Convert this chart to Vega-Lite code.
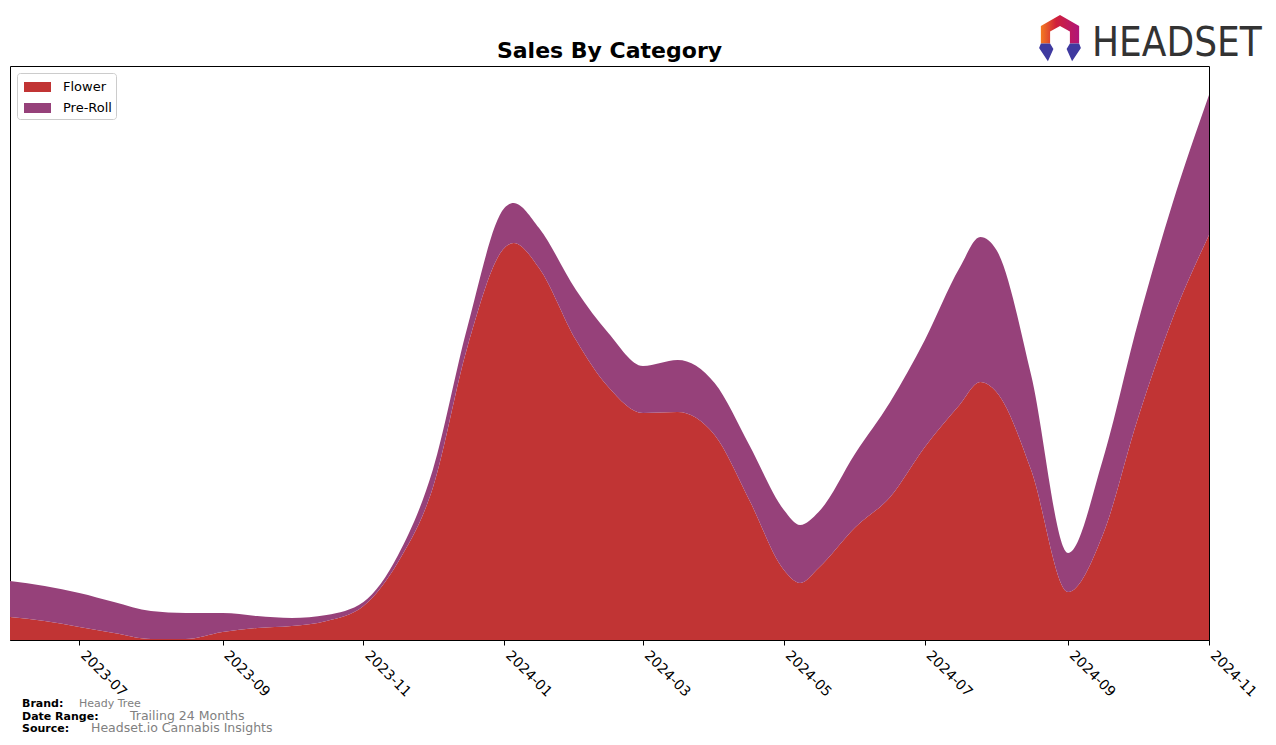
{
  "$schema": "https://vega.github.io/schema/vega-lite/v6.json",
  "width": 1199,
  "height": 574,
  "autosize": {"type": "none"},
  "padding": {"left": 10, "top": 66, "right": 67, "bottom": 105},
  "background": "white",
  "config": {
    "view": {"stroke": "black", "strokeWidth": 1},
    "font": "DejaVu Sans"
  },
  "datasets": {
    "sales": [
      {"date": "2023-06-01", "category": "Flower", "sales": 2300},
      {"date": "2023-06-16", "category": "Flower", "sales": 1900},
      {"date": "2023-07-01", "category": "Flower", "sales": 1300},
      {"date": "2023-07-16", "category": "Flower", "sales": 700},
      {"date": "2023-08-01", "category": "Flower", "sales": 100},
      {"date": "2023-08-16", "category": "Flower", "sales": 100},
      {"date": "2023-09-01", "category": "Flower", "sales": 800},
      {"date": "2023-09-16", "category": "Flower", "sales": 1200},
      {"date": "2023-10-01", "category": "Flower", "sales": 1400},
      {"date": "2023-10-16", "category": "Flower", "sales": 1900},
      {"date": "2023-11-01", "category": "Flower", "sales": 3400},
      {"date": "2023-11-16", "category": "Flower", "sales": 7800},
      {"date": "2023-12-01", "category": "Flower", "sales": 15200},
      {"date": "2023-12-16", "category": "Flower", "sales": 29300},
      {"date": "2024-01-01", "category": "Flower", "sales": 39200},
      {"date": "2024-01-05", "category": "Flower", "sales": 39700},
      {"date": "2024-01-16", "category": "Flower", "sales": 37200},
      {"date": "2024-02-01", "category": "Flower", "sales": 30000},
      {"date": "2024-02-15", "category": "Flower", "sales": 25300},
      {"date": "2024-03-01", "category": "Flower", "sales": 22700},
      {"date": "2024-03-16", "category": "Flower", "sales": 22800},
      {"date": "2024-04-01", "category": "Flower", "sales": 20500},
      {"date": "2024-04-16", "category": "Flower", "sales": 14000},
      {"date": "2024-05-01", "category": "Flower", "sales": 7000},
      {"date": "2024-05-08", "category": "Flower", "sales": 5700},
      {"date": "2024-05-16", "category": "Flower", "sales": 7200},
      {"date": "2024-06-01", "category": "Flower", "sales": 11300},
      {"date": "2024-06-16", "category": "Flower", "sales": 14300},
      {"date": "2024-07-01", "category": "Flower", "sales": 19300},
      {"date": "2024-07-16", "category": "Flower", "sales": 23500},
      {"date": "2024-07-25", "category": "Flower", "sales": 25800},
      {"date": "2024-08-01", "category": "Flower", "sales": 24800},
      {"date": "2024-08-16", "category": "Flower", "sales": 17000},
      {"date": "2024-09-01", "category": "Flower", "sales": 4800},
      {"date": "2024-09-16", "category": "Flower", "sales": 10500},
      {"date": "2024-10-01", "category": "Flower", "sales": 22000},
      {"date": "2024-10-16", "category": "Flower", "sales": 32000},
      {"date": "2024-11-01", "category": "Flower", "sales": 40500},
      {"date": "2023-06-01", "category": "Pre-Roll", "sales": 3600},
      {"date": "2023-06-16", "category": "Pre-Roll", "sales": 3500},
      {"date": "2023-07-01", "category": "Pre-Roll", "sales": 3400},
      {"date": "2023-07-16", "category": "Pre-Roll", "sales": 3100},
      {"date": "2023-08-01", "category": "Pre-Roll", "sales": 2800},
      {"date": "2023-08-16", "category": "Pre-Roll", "sales": 2600},
      {"date": "2023-09-01", "category": "Pre-Roll", "sales": 1900},
      {"date": "2023-09-16", "category": "Pre-Roll", "sales": 1200},
      {"date": "2023-10-01", "category": "Pre-Roll", "sales": 800},
      {"date": "2023-10-16", "category": "Pre-Roll", "sales": 600},
      {"date": "2023-11-01", "category": "Pre-Roll", "sales": 400},
      {"date": "2023-11-16", "category": "Pre-Roll", "sales": 700},
      {"date": "2023-12-01", "category": "Pre-Roll", "sales": 1800},
      {"date": "2023-12-16", "category": "Pre-Roll", "sales": 2000},
      {"date": "2024-01-01", "category": "Pre-Roll", "sales": 4000},
      {"date": "2024-01-05", "category": "Pre-Roll", "sales": 4000},
      {"date": "2024-01-16", "category": "Pre-Roll", "sales": 4000},
      {"date": "2024-02-01", "category": "Pre-Roll", "sales": 5000},
      {"date": "2024-02-15", "category": "Pre-Roll", "sales": 5400},
      {"date": "2024-03-01", "category": "Pre-Roll", "sales": 4700},
      {"date": "2024-03-16", "category": "Pre-Roll", "sales": 5200},
      {"date": "2024-04-01", "category": "Pre-Roll", "sales": 5200},
      {"date": "2024-04-16", "category": "Pre-Roll", "sales": 5500},
      {"date": "2024-05-01", "category": "Pre-Roll", "sales": 6000},
      {"date": "2024-05-08", "category": "Pre-Roll", "sales": 5800},
      {"date": "2024-05-16", "category": "Pre-Roll", "sales": 5600},
      {"date": "2024-06-01", "category": "Pre-Roll", "sales": 7400},
      {"date": "2024-06-16", "category": "Pre-Roll", "sales": 9500},
      {"date": "2024-07-01", "category": "Pre-Roll", "sales": 10700},
      {"date": "2024-07-16", "category": "Pre-Roll", "sales": 13700},
      {"date": "2024-07-25", "category": "Pre-Roll", "sales": 14500},
      {"date": "2024-08-01", "category": "Pre-Roll", "sales": 14200},
      {"date": "2024-08-16", "category": "Pre-Roll", "sales": 9500},
      {"date": "2024-09-01", "category": "Pre-Roll", "sales": 3900},
      {"date": "2024-09-16", "category": "Pre-Roll", "sales": 7500},
      {"date": "2024-10-01", "category": "Pre-Roll", "sales": 9500},
      {"date": "2024-10-16", "category": "Pre-Roll", "sales": 11500},
      {"date": "2024-11-01", "category": "Pre-Roll", "sales": 14000}
    ]
  },
  "layer": [
    {
      "data": {"name": "sales"},
      "mark": {"type": "area", "interpolate": "monotone"},
      "encoding": {
        "x": {
          "field": "date",
          "type": "temporal",
          "scale": {
            "type": "utc",
            "domain": [
              {"year": 2023, "month": 6, "date": 1, "utc": true},
              {"year": 2024, "month": 11, "date": 1, "utc": true}
            ],
            "nice": false
          },
          "axis": {
            "title": null,
            "format": "%Y-%m",
            "tickCount": {"interval": "month", "step": 2},
            "labelAngle": 45,
            "labelAlign": "left",
            "labelBaseline": "top",
            "labelFontSize": 14,
            "labelFont": "DejaVu Sans",
            "labelColor": "black",
            "labelOffset": 8,
            "tickColor": "black",
            "tickSize": 5,
            "domainColor": "black",
            "grid": false,
            "labelPadding": 3,
            "labelOverlap": false,
            "labelFlush": false
          }
        },
        "y": {
          "field": "sales",
          "type": "quantitative",
          "stack": "zero",
          "scale": {"domain": [0, 57400], "nice": false},
          "axis": null
        },
        "color": {
          "field": "category",
          "type": "nominal",
          "scale": {"domain": ["Flower", "Pre-Roll"], "range": ["#C13434", "#96417A"]},
          "legend": {
            "title": null,
            "orient": "none",
            "legendX": 7,
            "legendY": 7,
            "symbolType": "M-1.35,-0.5L1.35,-0.5L1.35,0.5L-1.35,0.5Z",
            "symbolSize": 400,
            "symbolStrokeWidth": 0,
            "symbolOffset": 6.5,
            "labelFontSize": 13,
            "labelFont": "DejaVu Sans",
            "labelColor": "black",
            "labelOffset": 15.5,
            "rowPadding": 4,
            "padding": 4,
            "strokeColor": "#cccccc",
            "fillColor": "white",
            "cornerRadius": 3
          }
        },
        "order": {"field": "category", "sort": "ascending"}
      }
    },
    {
      "data": {"values": [{}]},
      "mark": {"type": "text", "text": "Sales By Category", "x": 599.5, "y": -15, "align": "center", "baseline": "middle", "fontSize": 22, "fontWeight": "bold", "font": "DejaVu Sans", "color": "black"},
      "encoding": {}
    },
    {
      "data": {"values": [{}]},
      "mark": {"type": "text", "text": "Brand:", "x": 12, "y": 641, "align": "left", "baseline": "alphabetic", "fontSize": 11, "fontWeight": "bold", "font": "DejaVu Sans", "color": "black"},
      "encoding": {}
    },
    {
      "data": {"values": [{}]},
      "mark": {"type": "text", "text": "Heady Tree", "x": 69, "y": 641, "align": "left", "baseline": "alphabetic", "fontSize": 11, "font": "DejaVu Sans", "color": "#808080"},
      "encoding": {}
    },
    {
      "data": {"values": [{}]},
      "mark": {"type": "text", "text": "Date Range:", "x": 12, "y": 654, "align": "left", "baseline": "alphabetic", "fontSize": 11, "fontWeight": "bold", "font": "DejaVu Sans", "color": "black"},
      "encoding": {}
    },
    {
      "data": {"values": [{}]},
      "mark": {"type": "text", "text": "Trailing 24 Months", "x": 120, "y": 654, "align": "left", "baseline": "alphabetic", "fontSize": 12.5, "font": "DejaVu Sans", "color": "#808080"},
      "encoding": {}
    },
    {
      "data": {"values": [{}]},
      "mark": {"type": "text", "text": "Source:", "x": 12, "y": 666, "align": "left", "baseline": "alphabetic", "fontSize": 11, "fontWeight": "bold", "font": "DejaVu Sans", "color": "black"},
      "encoding": {}
    },
    {
      "data": {"values": [{}]},
      "mark": {"type": "text", "text": "Headset.io Cannabis Insights", "x": 81, "y": 666, "align": "left", "baseline": "alphabetic", "fontSize": 12.5, "font": "DejaVu Sans", "color": "#808080"},
      "encoding": {}
    },
    {
      "data": {"values": [{}]},
      "mark": {"type": "text", "text": "HEADSET", "x": 1082, "y": -10, "align": "left", "baseline": "alphabetic", "fontSize": 40, "font": "DejaVu Sans Condensed, DejaVu Sans", "color": "#333333"},
      "encoding": {}
    },
    {
      "data": {"values": [{}]},
      "mark": {
        "type": "point", "filled": true, "opacity": 1, "x": 1050, "y": -29, "size": 1936,
        "shape": "M-0.87,0.3L-0.87,-0.5L0,-1L0.87,-0.5L0.87,0.3L0.45,0.3L0.45,-0.25L0,-0.5L-0.45,-0.25L-0.45,0.3Z",
        "color": {"gradient": "linear", "x1": 0, "y1": 0, "x2": 1, "y2": 0, "stops": [{"offset": 0, "color": "#F47A20"}, {"offset": 0.4, "color": "#D0203A"}, {"offset": 1, "color": "#B0157A"}]}
      },
      "encoding": {}
    },
    {
      "data": {"values": [{}]},
      "mark": {
        "type": "point", "filled": true, "opacity": 1, "x": 1050, "y": -29, "size": 1936,
        "shape": "M-0.87,0.3L-0.45,0.3L-0.3,0.55L-0.55,1.1L-0.95,0.5Z M0.87,0.3L0.45,0.3L0.3,0.55L0.55,1.1L0.95,0.5Z",
        "color": "#3F3AA0"
      },
      "encoding": {}
    }
  ]
}
